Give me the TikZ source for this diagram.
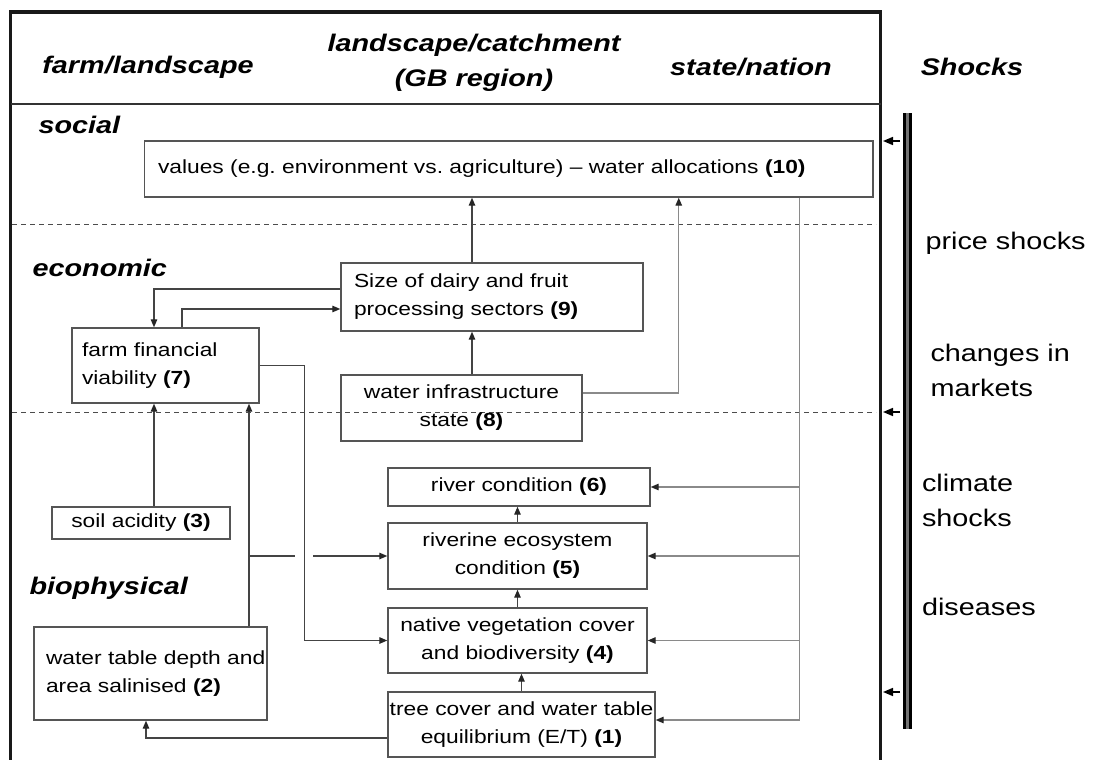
\documentclass[tikz,border=0pt]{standalone}
\usepackage{fontspec}
\setmainfont{Liberation Sans}[FakeStretch=1.2]
\usepackage{tikz}
\usetikzlibrary{arrows.meta,positioning,calc}
\definecolor{boxline}{HTML}{555555}
\definecolor{wire}{HTML}{444444}
\definecolor{wiresoft}{HTML}{8A8A8A}
\tikzset{
  cbox/.style={draw=boxline,line width=1.4pt,align=center,inner xsep=1pt,inner ysep=0pt,font=\fontsize{19}{28}\selectfont},
  cboxl/.style={cbox,align=left},
  carr/.style={-{Triangle[length=8pt,width=6.5pt,color=black!85]},line width=1.3pt,draw=wire},
  cgarr/.style={carr,draw=wiresoft},
  cline/.style={line width=1.3pt,draw=wire},
  cdash/.style={line width=1pt,draw=black!70,dash pattern=on 5pt off 4pt},
  headtxt/.style={font=\fontsize{24}{35}\selectfont\bfseries\itshape,align=center},
  shocktxt/.style={font=\fontsize{24}{35}\selectfont,align=left,anchor=west}
}

\begin{document}
\begin{tikzpicture}[x=1pt,y=-1pt]
  \path[use as bounding box,fill=white] (0,0) rectangle (1095,760);
  % frame and bands
  \draw[line width=3.4pt,black!90] (10.5,760) -- (10.5,12) -- (880.5,12) -- (880.5,760);
  \draw[line width=1.3pt,black!80] (10.5,104) -- (880.5,104);
  \draw[cdash] (12,224) -- (876,224);
  \draw[cdash] (12,412) -- (876,412);
  \node[headtxt] (hfarm) at (148,67) {farm/landscape};
  \node[headtxt] (hland) at (474,63) {landscape/catchment\\(GB region)};
  \node[headtxt] (hstate) at (751,67) {state/nation};
  \node[headtxt] (hshock) at (972,67) {Shocks};
  \node[headtxt,anchor=west] (lsocial) at (35,125) {social};
  \node[headtxt,anchor=west] (lecon) at (29,268) {economic};
  \node[headtxt,anchor=west] (lbio) at (26,588) {biophysical};
  % boxes
  \node[cboxl,text width=701.5pt,inner xsep=13.5pt,minimum height=56pt] (n10) at (508.75,169)
    {values (e.g.\ environment vs.\ agriculture) -- water allocations \textbf{(10)}};
  \node[cboxl,text width=276pt,inner xsep=13pt,minimum height=68pt] (n9) at (492,297)
    {Size of dairy and fruit\\ processing sectors \textbf{(9)}};
  \node[cboxl,text width=167pt,inner xsep=10pt,minimum height=75pt] (n7) at (165.5,365.5)
    {farm financial\\ viability \textbf{(7)}};
  \node[cbox,minimum width=241pt,minimum height=66pt] (n8) at (461.5,408)
    {water infrastructure\\ state \textbf{(8)}};
  \node[cbox,minimum width=262pt,minimum height=38pt] (n6) at (519,487)
    {river condition \textbf{(6)}};
  \node[cbox,minimum width=178pt,minimum height=32pt] (n3) at (141,523)
    {soil acidity \textbf{(3)}};
  \node[cbox,minimum width=259pt,minimum height=66pt] (n5) at (517.5,556)
    {riverine ecosystem\\ condition \textbf{(5)}};
  \node[cbox,minimum width=259pt,minimum height=65pt] (n4) at (517.5,640.5)
    {native vegetation cover\\ and biodiversity \textbf{(4)}};
  \node[cbox,minimum width=267pt,minimum height=65pt] (n1) at (521.5,724.5)
    {tree cover and water table\\ equilibrium (E/T) \textbf{(1)}};
  \node[cboxl,text width=209pt,inner xsep=12pt,minimum height=93pt] (n2) at (150.5,673.5)
    {\mbox{water table depth and}\\ \mbox{area salinised \textbf{(2)}}};
  % links
  \coordinate (c9) at ([xshift=-20pt]n9.north);
  \coordinate (c8) at ([xshift=-20pt]n9.south);
  \draw[carr] (c9) -- (c9 |- n10.south);
  \draw[carr] (c8 |- n8.north) -- (c8);
  \coordinate (c8e) at ([yshift=15pt]n8.east);
  \coordinate (c10a) at ([xshift=170pt]n10.south);
  \draw[cgarr] (c8e) -| (c10a);
  \coordinate (tap) at ([xshift=291pt]n10.south);
  \coordinate (n1in) at ([yshift=4.5pt]n1.east);
  \draw[cgarr] (tap) |- (n1in);
  \foreach \b in {n6,n5,n4}
    \draw[cgarr] (tap |- \b.east) -- (\b.east);
  \coordinate (c9w) at ([yshift=8pt]n9.west);
  \coordinate (c7n) at ([xshift=-11.5pt]n7.north);
  \draw[carr] (c9w) -| (c7n);
  \coordinate (c7o) at ([xshift=16.5pt]n7.north);
  \coordinate (c9i) at ([yshift=-12pt]n9.west);
  \draw[carr] (c7o) |- (c9i);
  \coordinate (c7s) at ([xshift=-11.5pt]n7.south);
  \draw[carr] (c7s |- n3.north) -- (c7s);
  \coordinate (drop) at ([xshift=83.5pt]n7.south);
  \draw[carr] (drop |- n2.north) -- (drop);
  \draw[cline] (drop |- n5.west) -- ++(46,0);
  \draw[carr] ([xshift=-74pt]n5.west) -- (n5.west);
  \draw[carr] (n7.east) -- ++(45,0) |- (n4.west);
  \coordinate (c1w) at ([yshift=-13.5pt]n1.west);
  \coordinate (c2s) at ([xshift=-4.5pt]n2.south);
  \draw[carr] (c1w) -| (c2s);
  \foreach \a/\b in {n1/n4,n4/n5,n5/n6}
    \draw[carr] (\a.north) -- (\a.north |- \b.south);
  % shocks
  \draw[line width=2.6pt,double=black!55,double distance=3.6pt,black] (907.5,113) -- (907.5,729);
  \foreach \y [count=\i] in {141,412,692}{
    \coordinate (sh\i) at (900,\y);
    \coordinate (fr\i) at (883,\y);
    \draw[-{Triangle[length=10pt,width=8pt]},line width=1.6pt,black] (sh\i) -- (fr\i);
  }
  \node[shocktxt] (tprice) at (922,243) {price shocks};
  \node[shocktxt] (tmarket) at (927,370) {changes in\\markets};
  \node[shocktxt] (tclim) at (918.5,500.5) {climate\\shocks};
  \node[shocktxt] (tdis) at (918.5,607) {diseases};
\end{tikzpicture}
\end{document}
